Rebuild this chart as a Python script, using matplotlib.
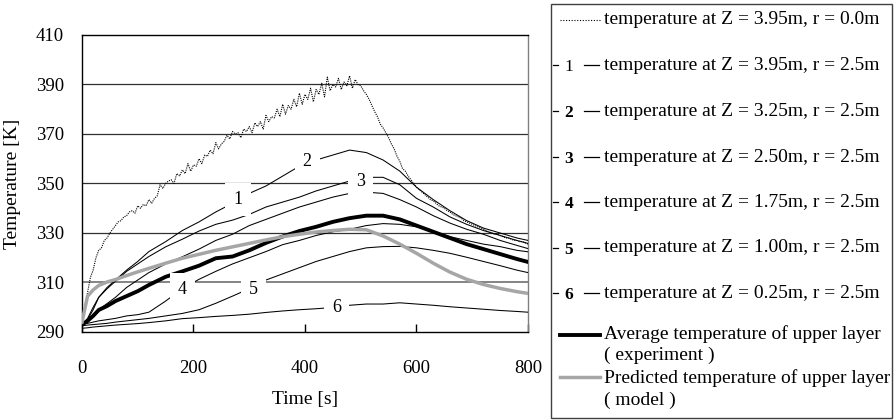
import numpy as np
import matplotlib
matplotlib.use("Agg")
from matplotlib import pyplot as plt
from matplotlib.lines import Line2D
from matplotlib.patches import Rectangle

plt.rcParams['font.family'] = ['Liberation Serif', 'DejaVu Serif']

# time axis of the r = 2.5m probes, average and model
t = [0, 10, 20, 30, 45, 60, 80, 100, 120, 150, 180, 210, 240, 270, 300, 330,
     360, 390, 420, 450, 480, 510, 540, 570, 600, 630, 660, 690, 720, 750, 780, 800]

z395 = [293, 295.5, 300, 304, 308, 311, 315, 318.5, 322.5, 326.5, 331, 334.5, 338.5, 342, 346, 349,
        353, 357, 359.5, 361.5, 363.5, 362.5, 359.5, 355, 348.5, 343.5, 339, 335, 332, 330, 328, 327]
z325 = [293, 295, 299, 304, 307.5, 310.5, 314.5, 317.5, 320.5, 324.4, 327.5, 330.8, 333.5, 335.2, 337.5, 340.5,
        342.5, 344.5, 347, 349, 351, 352.5, 352.5, 349.5, 344, 340.5, 336.5, 333.5, 331, 329, 327, 325.8]
z250 = [293, 294, 296.5, 299, 301.5, 304, 308, 311, 314, 317.5, 320.4, 323.5, 327, 329.5, 333, 335.5,
        338, 340.5, 342.5, 344.5, 346, 346.5, 346, 343.5, 340.5, 337, 334, 331.5, 329.5, 327, 325, 323.7]
z175 = [293, 293.5, 294, 294.5, 295, 295.5, 296.5, 297, 298, 302.5, 307.5, 311.3, 314.5, 317.5, 320, 322.5,
        325.3, 327, 329, 330.5, 331.5, 333, 333.8, 333.5, 332.5, 330.5, 328.5, 327, 325.5, 324.5, 323, 322.4]
z100 = [292.5, 292.8, 293, 293.2, 293.5, 294, 294.5, 295, 295.5, 296.5, 297.5, 299, 301.6, 304.5, 307.5, 311,
        313.5, 316, 318.5, 320.5, 322.5, 324, 324.5, 324.6, 324, 323, 321.8, 320.2, 318.5, 316.8, 315, 314]
z025 = [291.5, 291.7, 292, 292.2, 292.5, 292.8, 293.1, 293.4, 293.8, 294.5, 295.4, 295.8, 296.3, 296.7, 297.2, 297.9,
        298.5, 299, 299.4, 299.9, 300.8, 301.3, 301.3, 301.8, 301.3, 300.8, 300.2, 299.7, 299.2, 298.7, 298.3, 298]
avg_exp = [293, 294.5, 296.5, 298.9, 300.5, 302.5, 304.5, 306.5, 309, 312.3, 314.5, 316.8, 319.8, 320.5, 323, 326,
           328.6, 330.8, 332.5, 334.5, 336, 337, 337, 335.5, 333, 330.5, 328, 325.5, 323.5, 321.5, 319.5, 318.3]
model = [294, 304.5, 307, 308.8, 310.2, 311.2, 312.8, 314.3, 315.7, 317.8, 319.8, 321.4, 323, 324.4, 325.8, 327.2,
         328.5, 329.5, 330.4, 331, 331.5, 331.3, 328.8, 325.5, 321.8, 317.8, 314.2, 311.3, 309.2, 307.6, 306.3, 305.6]

# centre probe, Z = 3.95m r = 0.0m, every 5 s
t_c = np.arange(0, 805, 5)
z395_r0 = [292, 300, 306, 312, 315, 320, 323, 324, 327, 328, 330, 331.5, 333, 334.5, 335, 336.5,
           337, 338.5, 339, 338, 341, 340, 341.5, 341, 343.5, 342, 344, 345, 349.5, 348, 350, 351,
           351.5, 350, 354, 353, 355.5, 354, 358, 355, 357.5, 357, 360, 358, 361.5, 361, 363.5, 362,
           366.5, 364, 366, 367, 369.5, 368, 371, 370, 370.5, 368.5, 372, 371, 373, 370.5, 374.5, 373,
           375, 372, 377.5, 375, 377, 376.5, 380, 377, 382, 378, 381.5, 380, 384, 381, 386.5, 382,
           386, 384, 388.5, 383, 388, 386, 390.5, 385, 393, 387.5, 390, 389, 392.5, 388, 391, 389.5,
           393.5, 388.5, 392, 390, 389.5, 387.5, 386, 384, 381.5, 379, 377, 374, 372.5, 370.5, 368.5, 366,
           364, 361, 359, 356, 355, 353, 351.5, 350, 348.5, 347.5, 346.5, 345.5, 344.5, 343.5, 343, 342,
           341, 340.5, 340, 339, 338.5, 337.5, 337, 336.5, 336, 335, 334.5, 334, 333.5, 333, 332.5, 332,
           331.5, 331, 330.5, 330, 329.5, 329.5, 329, 328.5, 328, 328, 327.5, 327, 327, 326.5, 326.5, 326,
           325.5]

# curve labels as they sit on the chart: (text, time, temperature)
curve_labels = [("1", 280, 343.6), ("2", 404, 359), ("3", 500, 350.9),
                ("4", 180, 307), ("5", 307, 307), ("6", 457, 299.7)]

fig = plt.figure(figsize=(8.95, 4.2), dpi=100)
ax = fig.add_axes([82 / 895, 1 - 332 / 420, 446 / 895, 297 / 420])

for y in [330, 350, 370, 390]:
    ax.axhline(y, color='#303030', lw=0.9, zorder=1)
ax.axhline(310, color='#707070', lw=1.2, zorder=1)

ax.plot(t_c, z395_r0, color='k', lw=0.8, ls=(0, (1, 1)), zorder=3)
for series in [z395, z325, z250, z175, z100, z025]:
    ax.plot(t, series, color='k', lw=0.75, zorder=3)
ax.plot(t, avg_exp, color='k', lw=2.8, zorder=4)
ax.plot(t, model, color='#a6a6a6', lw=2.5, zorder=4)

for txt, tx, ty in curve_labels:
    ax.text(tx, ty, txt, fontsize=13, ha='center', va='center', zorder=6,
            bbox=dict(boxstyle='square,pad=0.45', facecolor='white', edgecolor='none'))

ax.set_xlim(0, 800)
ax.set_ylim(290, 410)
ax.set_xticks([0, 200, 400, 600, 800])
ax.set_yticks([290, 310, 330, 350, 370, 390, 410])
ax.tick_params(axis='x', direction='in', length=6, width=1, pad=20, labelsize=13.5)
ax.tick_params(axis='y', length=0, pad=13, labelsize=13.5)
ax.set_xlabel("Time [s]", fontsize=14, labelpad=10)
ax.set_ylabel("Temperature [K]", fontsize=14, labelpad=11)
for s in ax.spines.values():
    s.set_linewidth(1)
ax.spines['right'].set_color('#808080')


# legend box drawn by hand, in figure pixels
def fx(px):
    return px / 895


def fy(py):
    return 1 - py / 420


fig.add_artist(Rectangle((fx(551.5), fy(418)), fx(892) - fx(551.5), fy(3.5) - fy(418),
                         transform=fig.transFigure, facecolor='none', edgecolor='#404040', lw=1))

legend_texts = ["temperature at Z = 3.95m, r = 0.0m",
                "temperature at Z = 3.95m, r = 2.5m",
                "temperature at Z = 3.25m, r = 2.5m",
                "temperature at Z = 2.50m, r = 2.5m",
                "temperature at Z = 1.75m, r = 2.5m",
                "temperature at Z = 1.00m, r = 2.5m",
                "temperature at Z = 0.25m, r = 2.5m"]
row_y = [20, 65, 111, 157, 202, 248, 293]

fig.add_artist(Line2D([fx(560), fx(600)], [fy(20), fy(20)], transform=fig.transFigure,
                      color='k', lw=0.8, ls=(0, (1, 1.5))))
for i, (txt, yy) in enumerate(zip(legend_texts, row_y)):
    fig.text(fx(604), fy(yy), txt, fontsize=14, va='center', ha='left')
    if i > 0:
        fig.add_artist(Line2D([fx(553), fx(558)], [fy(yy), fy(yy)], transform=fig.transFigure,
                              color='k', lw=0.9))
        fig.add_artist(Line2D([fx(584), fx(599)], [fy(yy), fy(yy)], transform=fig.transFigure,
                              color='k', lw=0.9))
        fig.text(fx(569), fy(yy + 2), str(i), fontsize=12.5, va='center', ha='center',
                 fontweight='bold' if i > 1 else 'normal')

fig.add_artist(Line2D([fx(560), fx(600)], [fy(335), fy(335)], transform=fig.transFigure,
                      color='k', lw=2.8))
fig.text(fx(604), fy(334), "Average temperature of upper layer", fontsize=14, va='center')
fig.text(fx(604), fy(355), "( experiment )", fontsize=14, va='center')
fig.add_artist(Line2D([fx(560), fx(600)], [fy(377), fy(377)], transform=fig.transFigure,
                      color='#a6a6a6', lw=2.5))
fig.text(fx(604), fy(378), "Predicted temperature of upper layer", fontsize=14, va='center')
fig.text(fx(604), fy(400), "( model )", fontsize=14, va='center')

fig.savefig("out.png", dpi=100)
